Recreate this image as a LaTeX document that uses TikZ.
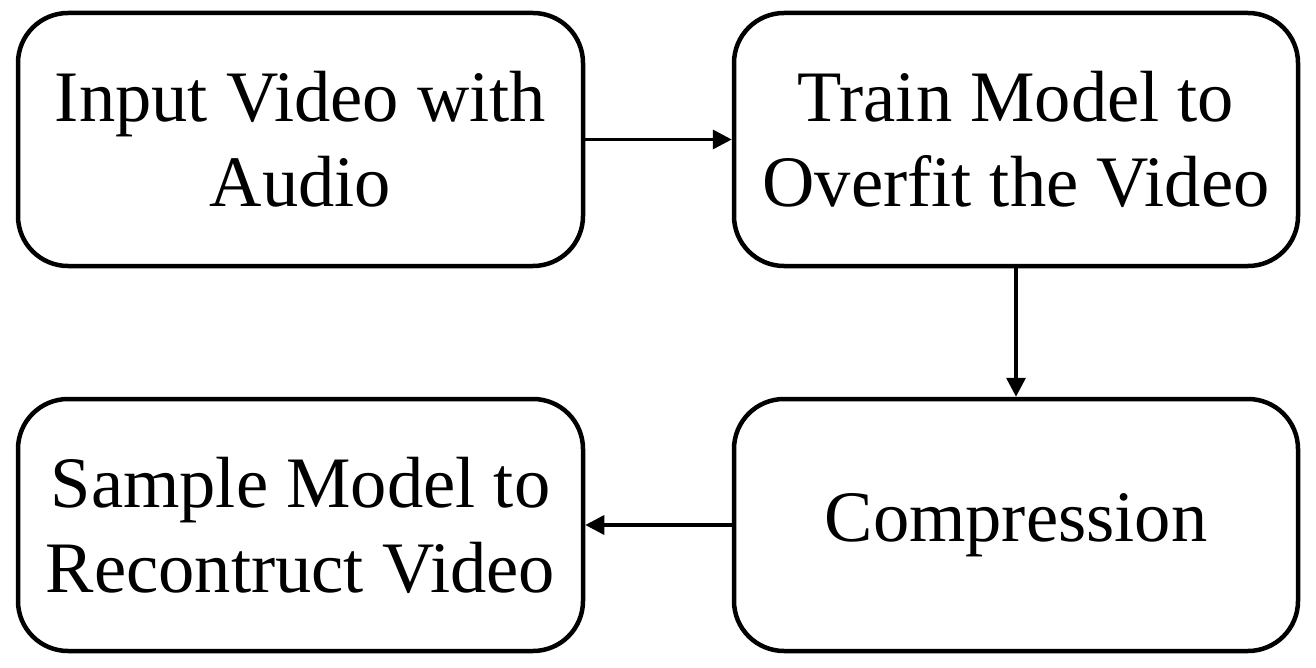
\documentclass[tikz,border=0pt]{standalone}
\usepackage{fontspec}
\setmainfont{Liberation Serif}
\usetikzlibrary{arrows.meta}
\begin{document}
\begin{tikzpicture}[x=1pt,y=-1pt,
  box/.style={draw, line width=4.5pt, rounded corners=50pt, align=center,
    inner sep=0pt, font=\fontsize{72.5}{85}\selectfont},
  conn/.style={line width=3.5pt, -{Triangle[length=19pt,width=19pt]}}]
\useasboundingbox (0,0) rectangle (1316,668);
\node[box, minimum width=565pt, minimum height=253pt] (input) at (300.5,139.5) {Input Video with\\Audio};
\node[box, minimum width=564pt, minimum height=253pt] (train) at (1016,139.5) {Train Model to\\Overfit the Video};
\node[box, minimum width=564pt, minimum height=252pt] (comp) at (1016,525) {Compression};
\node[box, minimum width=565pt, minimum height=252pt] (sample) at (300.5,525) {Sample Model to\\Recontruct Video};
\draw[conn] (input) -- (train);
\draw[conn] (train) -- (comp);
\draw[conn] (comp) -- (sample);
\end{tikzpicture}
\end{document}
